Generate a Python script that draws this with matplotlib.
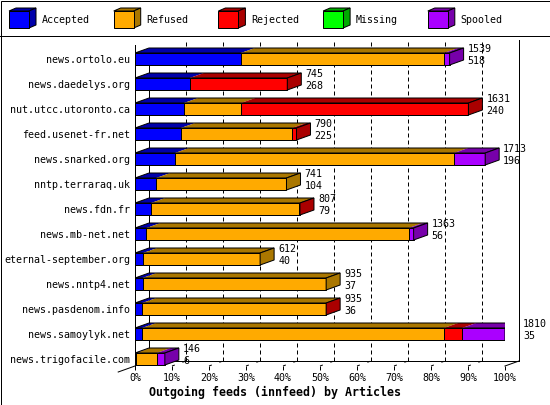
import matplotlib
matplotlib.use("Agg")
import matplotlib.pyplot as plt
import numpy as np
from matplotlib.patches import Polygon, Rectangle

# innfeed outgoing feeds, top to bottom
hosts = ["news.ortolo.eu", "news.daedelys.org", "nut.utcc.utoronto.ca",
         "feed.usenet-fr.net", "news.snarked.org", "nntp.terraraq.uk",
         "news.fdn.fr", "news.mb-net.net", "eternal-september.org",
         "news.nntp4.net", "news.pasdenom.info", "news.samoylyk.net",
         "news.trigofacile.com"]
totals = [1539, 745, 1631, 790, 1713, 741, 807, 1363, 612, 935, 935, 1810, 146]
accepted = [518, 268, 240, 225, 196, 104, 79, 56, 40, 37, 36, 35, 6]
refused = [994, 0, 279, 543, 1365, 637, 724, 1284, 572, 898, 896, 1477, 100]
rejected = [0, 477, 1112, 22, 0, 0, 4, 0, 0, 0, 3, 89, 0]
missing = [0, 0, 0, 0, 0, 0, 0, 0, 0, 0, 0, 0, 0]
spooled = [27, 0, 0, 0, 152, 0, 0, 23, 0, 0, 0, 209, 40]

series = ["Accepted", "Refused", "Rejected", "Missing", "Spooled"]
front_col = ["#0000ff", "#ffaa00", "#ff0000", "#00ff00", "#aa00ff"]
dark_col = ["#0000aa", "#aa7700", "#aa0000", "#00aa00", "#7700aa"]

plt.rcParams["font.family"] = ["DejaVu Sans Mono"]
plt.rcParams["font.size"] = 7.2
LW = 0.72

fig = plt.figure(figsize=(5.5, 4.05), dpi=100)
ax = fig.add_axes([135 / 550, 39 / 405, 370 / 550, 326 / 405])
FLOOR, TOP = 12.28, -0.76
ax.set_xlim(0, 100)
ax.set_ylim(FLOOR, TOP)
DX, DY = 14 / 3.7, 0.2   # depth of the fake 3d
H = 0.24

scale = 100 / max(totals)
data = np.array([accepted, refused, rejected, missing, spooled], dtype=float) * scale
ypos = np.arange(len(hosts))

# front faces
lefts = np.zeros(len(hosts))
for k in range(len(series)):
    w = data[k]
    m = w > 0
    ax.barh(ypos[m], w[m], left=lefts[m], height=2 * H, color=front_col[k],
            edgecolor="k", linewidth=LW, zorder=3)
    # top faces
    for i in ypos[m]:
        l, r = lefts[i], lefts[i] + w[i]
        ax.add_patch(Polygon([(l, i - H), (r, i - H), (r + DX, i - H - DY), (l + DX, i - H - DY)],
                             closed=True, facecolor=dark_col[k], edgecolor="none", zorder=3))
    lefts = lefts + w

for i in ypos:
    t = lefts[i]
    last = max(k for k in range(len(series)) if data[k][i] > 0)
    ax.add_patch(Polygon([(0, i - H), (t, i - H), (t + DX, i - H - DY), (DX, i - H - DY)],
                         closed=True, fill=False, edgecolor="k", linewidth=LW, zorder=4))
    ax.add_patch(Polygon([(t, i - H), (t + DX, i - H - DY), (t + DX, i + H - DY), (t, i + H)],
                         closed=True, facecolor=dark_col[last], edgecolor="k", linewidth=LW, zorder=4))
    ax.text(t + DX + 1.1, i - 0.4, str(totals[i]), ha="left", va="center", zorder=5)
    ax.text(t + DX + 1.1, i + 0.08, str(accepted[i]), ha="left", va="center", zorder=5)

# back wall and floor
for t in range(10, 100, 10):
    ax.plot([t + DX, t + DX], [FLOOR - DY, TOP], color="k", lw=LW, ls=(0, (4, 3)),
            zorder=1, clip_on=False)
    ax.plot([t, t + DX], [FLOOR, FLOOR - DY], color="k", lw=LW, ls=(0, (3, 8)),
            zorder=1, clip_on=False)
ax.plot([DX, DX], [FLOOR - DY, -0.4], color="k", lw=LW, zorder=1, clip_on=False)
ax.plot([100 + DX, 100 + DX], [FLOOR - DY, TOP], color="k", lw=LW, zorder=1, clip_on=False)
ax.plot([DX, 100 + DX], [FLOOR - DY, FLOOR - DY], color="k", lw=LW, zorder=1, clip_on=False)
ax.plot([100, 100 + DX], [FLOOR, FLOOR - DY], color="k", lw=LW, zorder=1, clip_on=False)
ax.plot([-1.2 * DX, 0], [FLOOR + 1.2 * DY, FLOOR], color="k", lw=LW, zorder=1, clip_on=False)

for s in ["top", "right", "bottom"]:
    ax.spines[s].set_visible(False)
ax.spines["left"].set_bounds(-0.56, FLOOR)
ax.spines["left"].set_linewidth(LW)
ax.patch.set_alpha(0)

ax.set_yticks(ypos)
ax.set_yticklabels(hosts)
ax.tick_params(axis="y", length=0, pad=3.6)
xt = list(range(0, 101, 10))
ax.set_xticks(xt)
ax.set_xticklabels([f"{t}%" for t in xt])
ax.tick_params(axis="x", length=2.9, width=LW, pad=2.2)

fig.text(275 / 550, 1 - 392 / 405, "Outgoing feeds (innfeed) by Articles",
         ha="center", va="center", fontsize=8.4, fontweight="bold")

# legend strip and frame, in pixel coords
ov = fig.add_axes([0, 0, 1, 1], zorder=-1)
ov.set_xlim(0, 550)
ov.set_ylim(405, 0)
ov.axis("off")
ov.add_patch(Rectangle((0.5, 0.5), 549, 404, fill=False, edgecolor="k", lw=LW))
ov.plot([0, 550], [35.5, 35.5], color="k", lw=LW)
for k, name in enumerate(series):
    x0 = 9 + k * 104.7
    ov.add_patch(Polygon([(x0, 11), (x0 + 20, 11), (x0 + 27, 8), (x0 + 7, 8)],
                         closed=True, facecolor=dark_col[k], edgecolor="k", lw=LW))
    ov.add_patch(Polygon([(x0 + 20, 11), (x0 + 27, 8), (x0 + 27, 25), (x0 + 20, 28)],
                         closed=True, facecolor=dark_col[k], edgecolor="k", lw=LW))
    ov.add_patch(Rectangle((x0, 11), 20, 17, facecolor=front_col[k], edgecolor="k", lw=LW))
    ov.text(x0 + 33, 20, name, ha="left", va="center")

fig.savefig("out.png", dpi=100)
